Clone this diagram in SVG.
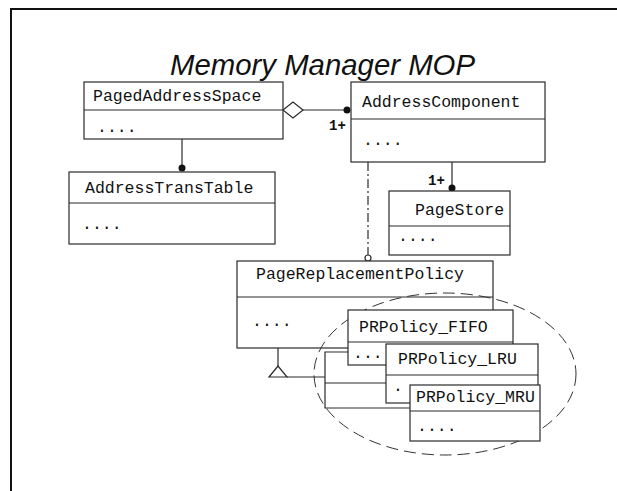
<svg xmlns="http://www.w3.org/2000/svg" width="617" height="491" viewBox="0 0 617 491">
<defs>
<style>
.box{fill:#fff;stroke:#2a2a2a;stroke-width:1.2}
.div{stroke:#2a2a2a;stroke-width:1.2}
.t{font-family:"Liberation Mono","Courier New",monospace;font-size:16.5px;fill:#111}
.d{font-family:"Liberation Mono","Courier New",monospace;font-size:16.5px;fill:#111}
.m{font-family:"Liberation Mono","Courier New",monospace;font-size:14px;font-weight:bold;fill:#111}
.ln{stroke:#2a2a2a;stroke-width:1.2;fill:none}
</style>
</defs>
<rect width="617" height="491" fill="#fff"/>
<g id="frame">
<line x1="10" y1="9" x2="617" y2="9" stroke="#111" stroke-width="2"/>
<line x1="11" y1="9" x2="11" y2="491" stroke="#111" stroke-width="2"/>
</g>
<text x="170" y="75" font-family="Liberation Sans, Arial, sans-serif" font-style="italic" font-size="29.5" fill="#111" textLength="305" lengthAdjust="spacingAndGlyphs">Memory Manager MOP</text>

<g id="connectors">
<polygon points="283,110 293,102 303,110 293,118" fill="#fff" stroke="#2a2a2a" stroke-width="1.2"/>
<line class="ln" x1="303" y1="110" x2="347" y2="110"/>
<circle cx="347" cy="110" r="3.5" fill="#111"/>
<text class="m" x="329" y="130">1+</text>
<line class="ln" x1="182" y1="139" x2="182" y2="168"/>
<circle cx="182" cy="168" r="3.5" fill="#111"/>
<line class="ln" x1="452" y1="162" x2="452" y2="188"/>
<circle cx="452" cy="188" r="3.5" fill="#111"/>
<text class="m" x="428" y="185">1+</text>
<line class="ln" x1="368" y1="162" x2="368" y2="255" stroke-dasharray="9,3,2,3"/>
<circle cx="368" cy="258" r="3" fill="#fff" stroke="#2a2a2a" stroke-width="1.2"/>
<line class="ln" x1="278" y1="348" x2="278" y2="366"/>
<polygon points="278,366 269,377 287,377" fill="#fff" stroke="#2a2a2a" stroke-width="1.2"/>
<line class="ln" x1="287" y1="377" x2="325" y2="377"/>
<polyline class="ln" points="348,352 325,352 325,408 410,408"/>
<line class="ln" x1="325" y1="383" x2="386" y2="383"/>
</g>

<g id="PagedAddressSpace">
<rect class="box" x="84" y="82" width="199" height="57"/>
<line class="div" x1="84" y1="110" x2="283" y2="110"/>
<text class="t" x="93" y="101">PagedAddressSpace</text>
<text class="d" x="97" y="132">....</text>
</g>
<g id="AddressComponent">
<rect class="box" x="351" y="82" width="194" height="80"/>
<line class="div" x1="351" y1="119" x2="545" y2="119"/>
<text class="t" x="362" y="107">AddressComponent</text>
<text class="d" x="363" y="145">....</text>
</g>
<g id="AddressTransTable">
<rect class="box" x="69" y="172" width="206" height="72"/>
<line class="div" x1="69" y1="203" x2="275" y2="203"/>
<text class="t" x="85" y="193">AddressTransTable</text>
<text class="d" x="82" y="229">....</text>
</g>
<g id="PageStore">
<rect class="box" x="389" y="191" width="121" height="64"/>
<line class="div" x1="389" y1="226" x2="510" y2="226"/>
<text class="t" x="415" y="215">PageStore</text>
<text class="d" x="398" y="241">....</text>
</g>
<g id="PageReplacementPolicy">
<rect class="box" x="237" y="261" width="256" height="87"/>
<line class="div" x1="237" y1="297" x2="493" y2="297"/>
<text class="t" x="256" y="279">PageReplacementPolicy</text>
<text class="d" x="252" y="326">....</text>
</g>
<g id="ellipse">
<ellipse cx="445" cy="374" rx="131" ry="81" fill="none" stroke="#333" stroke-width="1" stroke-dasharray="12,6"/>
</g>
<g id="PRPolicy_FIFO">
<rect class="box" x="348" y="310" width="165" height="55"/>
<line class="div" x1="348" y1="342" x2="513" y2="342"/>
<text class="t" x="359" y="332">PRPolicy_FIFO</text>
<text class="d" x="353" y="358">...</text>
</g>
<g id="PRPolicy_LRU">
<rect class="box" x="386" y="344" width="152" height="59"/>
<line class="div" x1="386" y1="375" x2="538" y2="375"/>
<text class="t" x="398" y="364">PRPolicy_LRU</text>
<text class="d" x="393" y="391">.</text>
</g>
<g id="PRPolicy_MRU">
<rect class="box" x="410" y="385" width="130" height="56"/>
<line class="div" x1="410" y1="411" x2="540" y2="411"/>
<text class="t" x="416" y="402">PRPolicy_MRU</text>
<text class="d" x="417" y="431">....</text>
</g>
</svg>
